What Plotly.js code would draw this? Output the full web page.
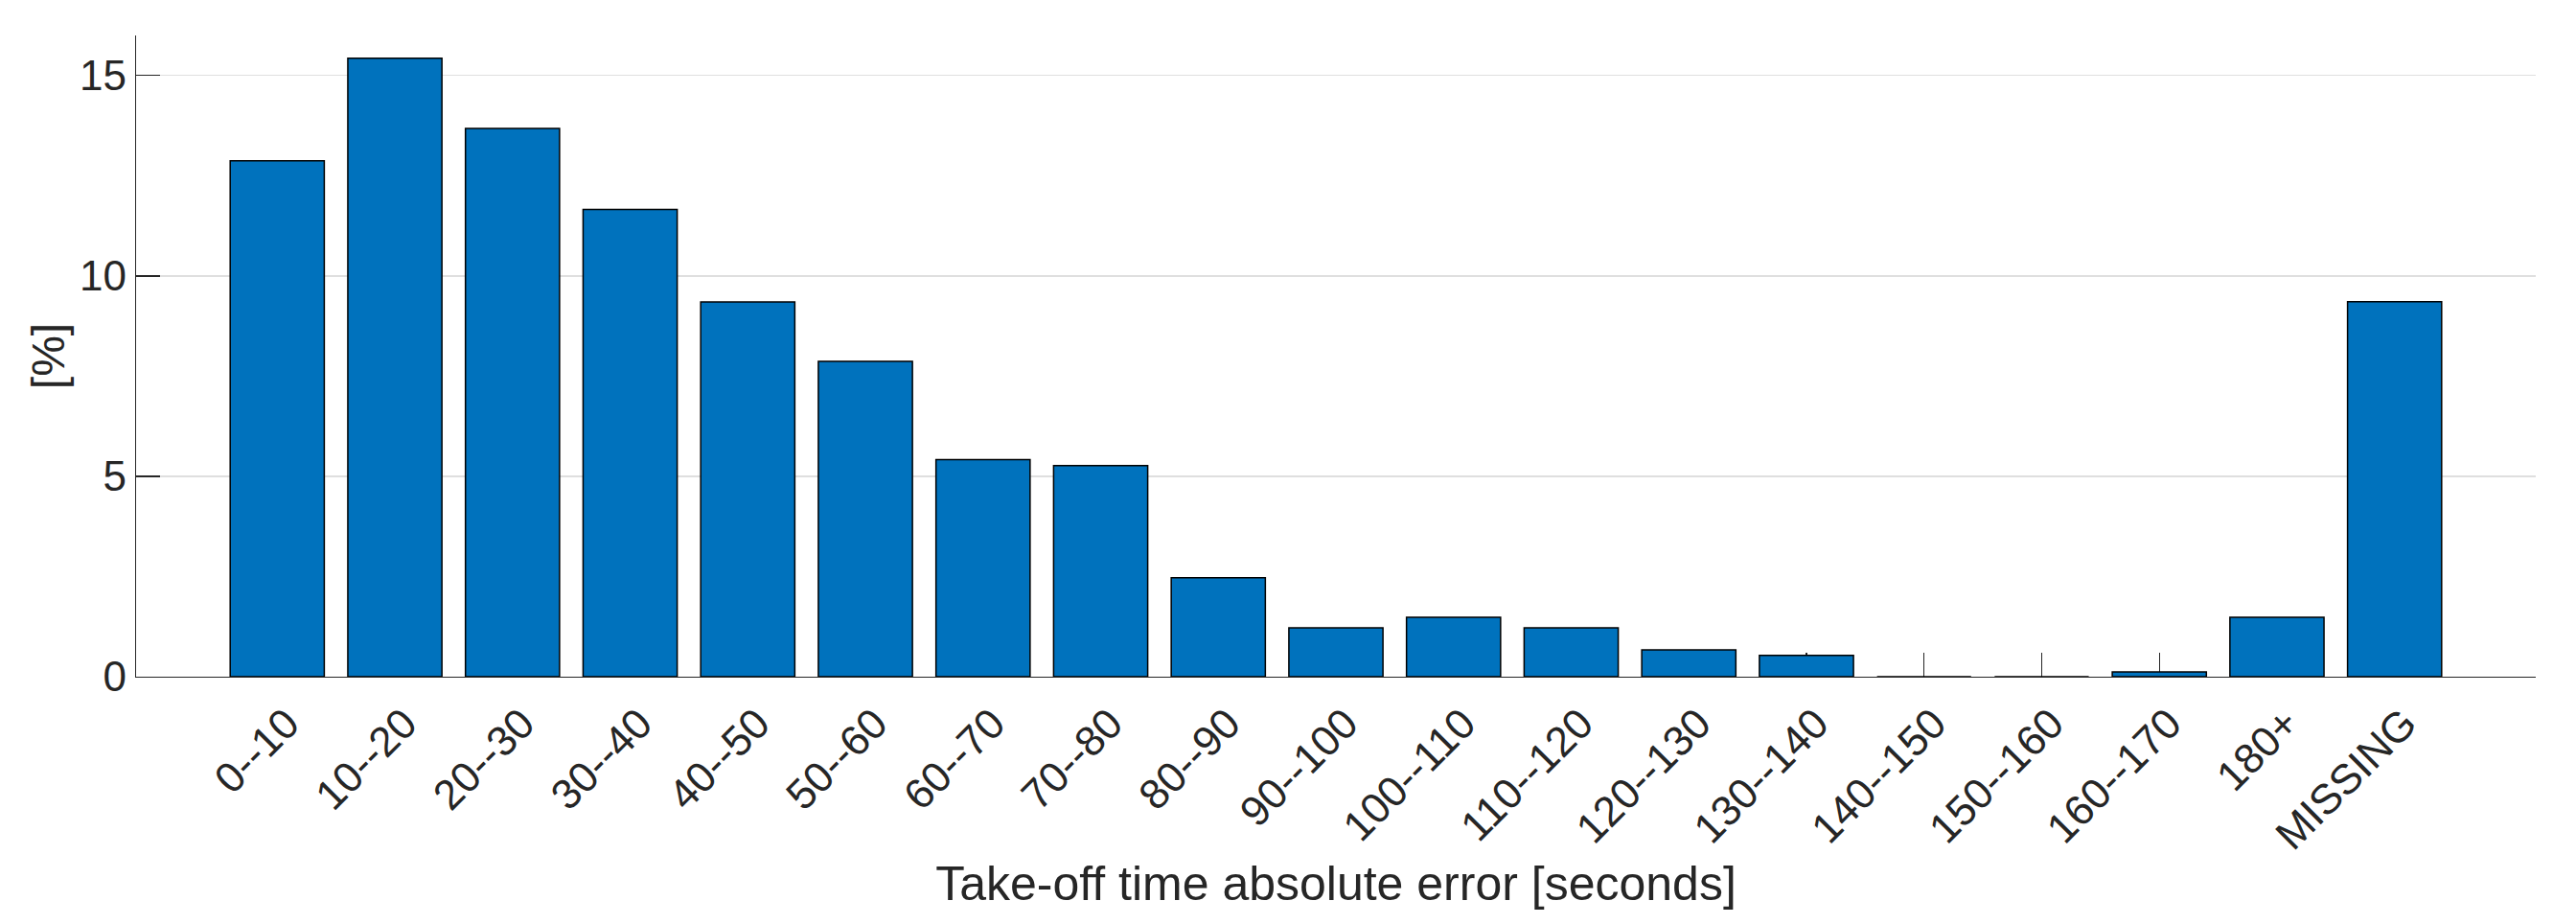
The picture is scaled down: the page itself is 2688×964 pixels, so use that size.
<!DOCTYPE html>
<html>
<head>
<meta charset="utf-8">
<script src="https://cdn.plot.ly/plotly-3.0.1.min.js"></script>
<style>
  html, body { margin: 0; padding: 0; background: #ffffff; }
  #chart { width: 2688px; height: 964px; }
</style>
</head>
<body>
<div id="chart"></div>
<script>
const categories = ["0--10", "10--20", "20--30", "30--40", "40--50", "50--60", "60--70", "70--80", "80--90", "90--100", "100--110", "110--120", "120--130", "130--140", "140--150", "150--160", "160--170", "180+", "MISSING"];
const percentValues = [12.87, 15.43, 13.68, 11.66, 9.35, 7.87, 5.42, 5.27, 2.47, 1.22, 1.48, 1.22, 0.67, 0.53, 0, 0, 0.12, 1.48, 9.36];
const yTickValues = [0, 5, 10, 15];
const xTitle = "Take-off time absolute error [seconds]";
const yTitle = "[%]";

const fontFamily = "'Liberation Sans', Arial, Helvetica, sans-serif";
const textColor = "#262626";

const trace = {
  type: "bar",
  x: categories,
  y: percentValues,
  marker: { color: "#0072BD", line: { color: "#000000", width: 1.5 } },
  hoverinfo: "x+y"
};

const layout = {
  width: 2688,
  height: 964,
  margin: { l: 142, r: 42, t: 37, b: 258, pad: 0 },
  paper_bgcolor: "#ffffff",
  plot_bgcolor: "#ffffff",
  bargap: 0.2,
  showlegend: false,
  font: { family: fontFamily, color: textColor, size: 44 },
  xaxis: {
    type: "category",
    range: [-1.2, 19.2],
    showgrid: false,
    zeroline: false,
    showline: true,
    linecolor: textColor,
    linewidth: 1.3,
    ticks: "inside",
    ticklen: 25,
    tickwidth: 1.3,
    tickcolor: textColor,
    tickangle: -45,
    ticklabelshift: 10,
    ticklabelstandoff: 4,
    tickfont: { family: fontFamily, size: 44, color: textColor },
    layer: "below traces",
    title: { text: xTitle, font: { family: fontFamily, size: 50, color: textColor }, standoff: 9 },
    automargin: false
  },
  yaxis: {
    range: [0, 16],
    tickvals: yTickValues,
    ticktext: yTickValues.map(String),
    showgrid: true,
    gridcolor: "#dfdfdf",
    gridwidth: 1.3,
    zeroline: false,
    showline: true,
    linecolor: textColor,
    linewidth: 1.3,
    ticks: "inside",
    ticklen: 25,
    tickwidth: 1.3,
    tickcolor: textColor,
    tickfont: { family: fontFamily, size: 44, color: textColor },
    layer: "below traces",
    title: { text: yTitle, font: { family: fontFamily, size: 48, color: textColor }, standoff: 0 },
    automargin: false
  }
};

Plotly.newPlot("chart", [trace], layout, { displayModeBar: false, staticPlot: true });
</script>
</body>
</html>
